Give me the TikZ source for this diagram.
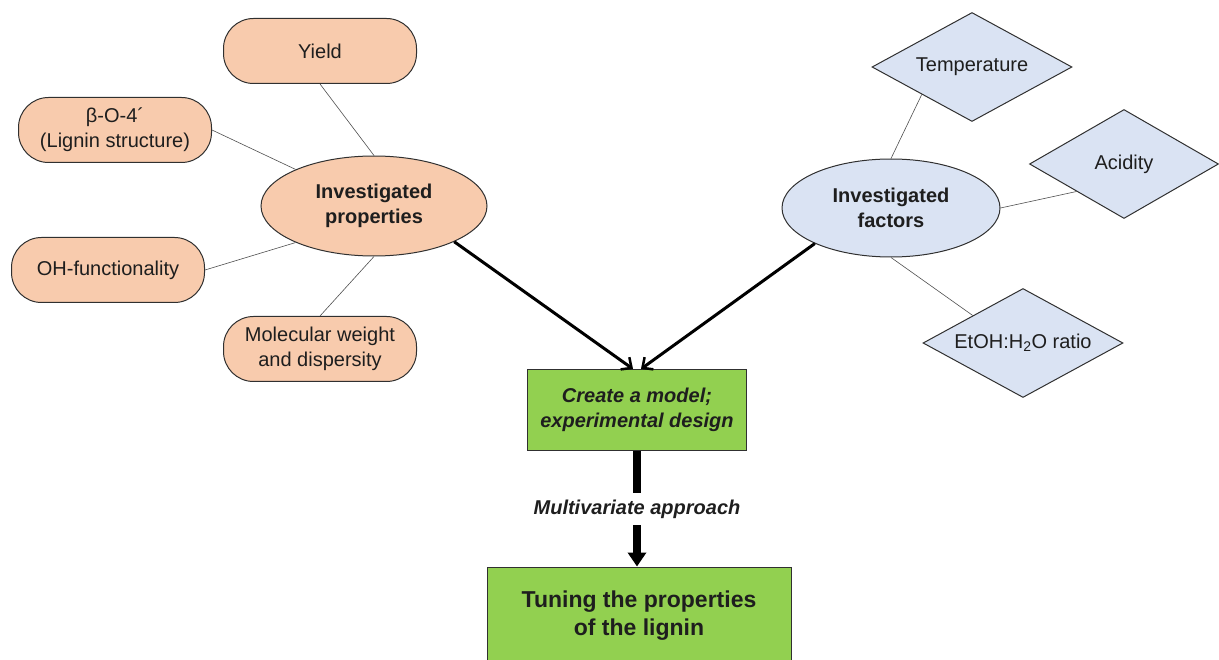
\documentclass[tikz,border=0pt]{standalone}
\usepackage{fontspec}
\setmainfont{Liberation Sans}
\usetikzlibrary{shapes.geometric,arrows.meta}
\definecolor{peach}{HTML}{F8CBAD}
\definecolor{paleblue}{HTML}{DAE3F3}
\definecolor{leaf}{HTML}{92D050}
\definecolor{ink}{HTML}{1E1E1E}
\definecolor{edge}{HTML}{303030}
\tikzset{
  txt/.style={text=ink,font=\fontsize{20}{25}\selectfont,align=center},
  pill/.style={txt,draw=edge,line width=1pt,fill=peach,rounded corners=30pt,minimum width=193pt,minimum height=65pt,inner sep=0pt},
  ovalnode/.style={txt,draw=edge,line width=1pt,ellipse,minimum width=226pt,minimum height=100pt,inner sep=0pt,font=\bfseries\fontsize{20}{25}\selectfont},
  dia/.style={txt,draw=edge,line width=1pt,fill=paleblue,diamond,inner sep=0pt,shape aspect=1.85,minimum width=200pt,minimum height=109pt},
  greenbox/.style={txt,draw=edge,line width=1pt,fill=leaf,inner sep=0pt},
  thin/.style={draw=edge!85,line width=0.6pt},
  bigarrow/.style={draw=black,line width=3pt,-{Straight Barb[length=8pt,width=15pt,line width=2.5pt]}},
}
\begin{document}
\begin{tikzpicture}[x=1pt,y=-1pt]
\useasboundingbox (0,0) rectangle (1219,660);
% left side
\node[pill] (yield) at (320,51) {Yield};
\node[pill] (beta) at (115,130) {β-O-4´\\(Lignin structure)};
\node[pill] (oh) at (108,270) {OH-functionality};
\node[pill] (mw) at (320,349) {Molecular weight\\and dispersity};
\node[ovalnode,fill=peach] (prop) at (374,206) {Investigated\\properties};
% right side
\node[ovalnode,fill=paleblue,minimum width=218pt,minimum height=98pt] (fac) at (891,208) {Investigated\\factors};
\node[dia] (temp) at (972,67) {Temperature};
\node[dia,minimum width=189pt] (acid) at (1124,164) {Acidity};
\node[dia] (etoh) at (1023,343) {EtOH:H\textsubscript{2}O ratio};
% centre
\node[greenbox,minimum width=219pt,minimum height=81pt,font=\bfseries\itshape\fontsize{20}{25}\selectfont] (model) at (637,410) {Create a model;\\experimental design};
\node[greenbox,minimum width=304pt,minimum height=98pt,font=\bfseries\fontsize{23}{28}\selectfont] (tune) at (639,616) {Tuning the properties\\of the lignin};
\node[txt,font=\bfseries\itshape\fontsize{20}{25}\selectfont,inner xsep=0pt,inner ysep=6.5pt,text height=15pt,text depth=4pt] (mv) at (637,509) {Multivariate approach};
% thin connectors
\draw[thin] (yield.south) -- (prop.north);
\draw[thin] (beta.east) -- (prop.155);
\draw[thin] (oh.east) -- (prop.205);
\draw[thin] (mw.north) -- (prop.south);
\draw[thin] (temp.south west) -- (fac.north);
\draw[thin] (acid.south west) -- (fac.east);
\draw[thin] (etoh.north west) -- (fac.south);
% thick arrows
\draw[bigarrow] (prop.-24) -- ([xshift=-4pt]model.north);
\draw[bigarrow] (fac.205) -- ([xshift=4pt]model.north);
\draw[black,line width=8pt] (model.south) -- (mv.north);
\draw[black,line width=8pt,-{Triangle[width=18pt,length=14pt]}] (mv.south) -- (mv.south |- tune.north);
\end{tikzpicture}
\end{document}
